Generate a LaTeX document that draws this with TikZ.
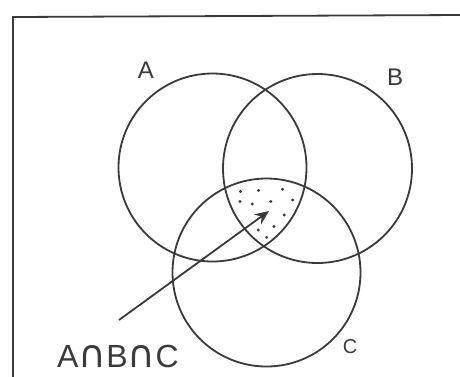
\documentclass[tikz,border=0pt]{standalone}
\usepackage{fontspec}
\setmainfont{Liberation Sans}
\newfontfamily\symfont{DejaVu Sans}
\usetikzlibrary{arrows.meta}
\definecolor{ink}{HTML}{3A3A3A}
\begin{document}
\begin{tikzpicture}[x=1pt,y=-1pt,
  setline/.style={draw=ink,line width=1.8pt},
  lbl/.style={text=ink,font=\fontsize{24}{24}\selectfont,inner sep=0pt},
  dotmark/.style={fill=ink,circle,inner sep=0pt,minimum size=3.2pt}]
\useasboundingbox[fill=white] (0,0) rectangle (460,376);
% frame
\draw[setline] (13,378) -- (13,17) -- (462,15);
% circles
\node[setline,circle,minimum size=188pt,inner sep=0pt] (A) at (212.5,167.5) {};
\node[setline,circle,minimum size=189pt,inner sep=0pt] (B) at (317.5,168.5) {};
\node[setline,circle,minimum size=188pt,inner sep=0pt] (C) at (266.5,272.5) {};
% labels
\node[lbl] (la) at (146,70) {A};
\node[lbl] (lb) at (395,77) {B};
\node[lbl,font=\fontsize{20}{20}\selectfont] (lc) at (350,347) {C};
\node[lbl,font=\fontsize{32}{32}\selectfont,anchor=base west] (abc) at (57,367) {A{\symfont\fontsize{38}{38}\selectfont ∩}B{\symfont\fontsize{38}{38}\selectfont ∩}C};
% dots
\foreach \p [count=\i] in {(240.5,191.5),(258.5,190.5),(282.5,189.3),(240,201.5),(252.3,204),(270.7,201.5),(292.7,200),(284.3,215),(274,226.5),(258.3,230),(266.7,237.3)}
  \node[dotmark] (d\i) at \p {};
% arrow
\coordinate (tail) at (119,320);
\coordinate (tip) at (269,211);
\draw[draw=ink,line width=1.8pt,-{Stealth[length=14pt,width=12pt]}] (tail) -- (tip);
\end{tikzpicture}
\end{document}
